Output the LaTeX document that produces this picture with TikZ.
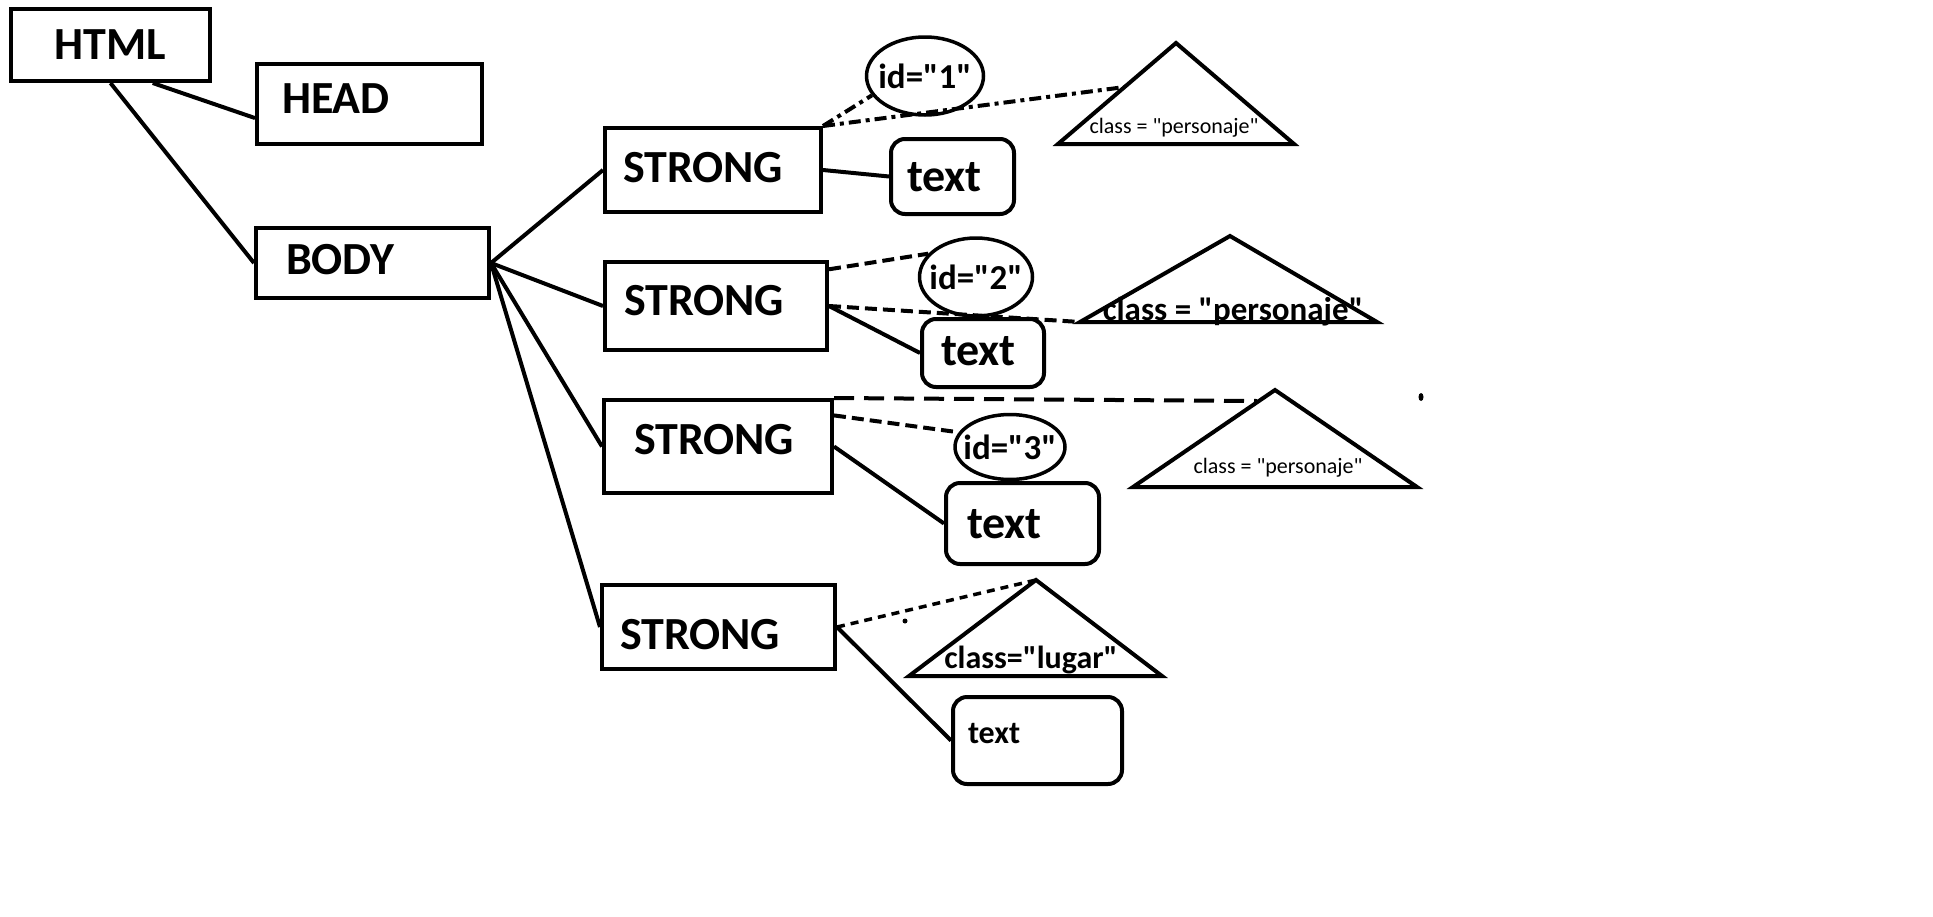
\documentclass[tikz,border=0pt]{standalone}
\usepackage{fontspec}
\setmainfont{Carlito}[Ligatures=TeXOff]
\usetikzlibrary{shapes, positioning}

\begin{document}
\begin{tikzpicture}[x=1pt, y=-1pt]

    % Define block styles
    \tikzstyle{tagbox} = [rectangle, draw=black, line width=4pt, anchor=north west, align=left, inner ysep=0pt, text depth=0pt, font=\fontsize{46}{50}\selectfont\bfseries]
    \tikzstyle{textbox} = [tagbox, rounded corners=14pt]
    \tikzstyle{idnode} = [ellipse, draw=black, line width=3.5pt, inner sep=0pt, font=\fontsize{35}{40}\selectfont\bfseries]
    \tikzstyle{classsmall} = [anchor=base, inner sep=0pt, font=\fontsize{22}{26}\selectfont]
    \tikzstyle{classbig} = [anchor=base, inner sep=0pt, font=\fontsize{33}{38}\selectfont\bfseries]
    \tikzstyle{triangle} = [line width=4pt, line join=miter]
    \tikzstyle{edge} = [line width=4pt]
    \tikzstyle{dashdotline} = [line width=4pt, dash pattern=on 12pt off 5pt on 4pt off 5pt]
    \tikzstyle{dashline} = [line width=4pt, dash pattern=on 12pt off 6pt]
    \tikzstyle{longdashline} = [line width=4pt, dash pattern=on 20pt off 10pt]
    \tikzstyle{dotline} = [line width=3.5pt, dash pattern=on 8pt off 6pt]

    \useasboundingbox (0,0) rectangle (1933,916);
    \fill[white] (0,0) rectangle (1933,916);

    % Place nodes
    \node (html) [tagbox, align=center, minimum height=72, text width=179, inner xsep=10] at (9,7) {HTML};
    \node (head) [tagbox, minimum height=80, text width=175, inner xsep=25, text depth=10] at (255,62) {HEAD};
    \node (body) [tagbox, minimum height=70, text width=173, inner xsep=30, text depth=8] at (254,226) {BODY};

    \node (strong1) [tagbox, minimum height=84, text width=180, inner xsep=18, text depth=5] at (603,126) {STRONG};
    \node (strong2) [tagbox, minimum height=88, text width=184, inner xsep=19, text depth=12] at (603,260) {STRONG};
    \node (strong3) [tagbox, minimum height=93, text width=168, inner xsep=30, text depth=15] at (602,398) {STRONG};
    \node (strong4) [tagbox, minimum height=84, text width=197, inner xsep=18, text height=45] at (600,583) {STRONG};

    \node (text1) [textbox, minimum height=75, text width=91, inner xsep=16] at (889,137) {text};
    \node (text2) [textbox, minimum height=68, text width=84, inner xsep=19, text depth=4] at (920,317) {text};
    \node (text3) [textbox, minimum height=81, text width=111, inner xsep=21] at (944,481) {text};
    \node (text4) [textbox, minimum height=87, text width=139, inner xsep=15, text depth=15, font=\fontsize{32}{36}\selectfont\bfseries] at (951,695) {text};

    \node (id1) [idnode, minimum width=117, minimum height=78] at (925,76) {\makebox[0pt]{id="1"}};
    \node (id2) [idnode, minimum width=113, minimum height=78] at (976,277) {\makebox[0pt]{id="2"}};
    \node (id3) [idnode, minimum width=110, minimum height=65] at (1010,447) {\makebox[0pt]{id="3"}};

    % Triangles
    \coordinate (tri1top) at (1176,43);
    \coordinate (tri1left) at (1058,144);
    \coordinate (tri1right) at (1294,144);
    \coordinate (tri1side) at (1125,87);
    \coordinate (tri2top) at (1230,236);
    \coordinate (tri2left) at (1080,322);
    \coordinate (tri2right) at (1377,322);
    \coordinate (tri3top) at (1275,390);
    \coordinate (tri3left) at (1133,487);
    \coordinate (tri3right) at (1417,487);
    \coordinate (tri3side) at (1257,401);
    \coordinate (tri4top) at (1036,580);
    \coordinate (tri4left) at (909,676);
    \coordinate (tri4right) at (1162,676);
    \draw[triangle] (tri1top) -- (tri1left) -- (tri1right) -- cycle;
    \draw[triangle] (tri2top) -- (tri2left) -- (tri2right) -- cycle;
    \draw[triangle] (tri3top) -- (tri3left) -- (tri3right) -- cycle;
    \draw[triangle] (tri4top) -- (tri4left) -- (tri4right) -- cycle;
    \node (class1) [classsmall] at (1174,133) {class = "personaje"};
    \node (class2) [classbig] at (1233,320) {class = "personaje"};
    \node (class3) [classsmall] at (1278,473) {class = "personaje"};
    \node (class4) [classbig, font=\fontsize{32}{36}\selectfont\bfseries] at (1031,668) {class="lugar"};

    % Draw lines
    \draw [edge] (html.-42) -- (head.187);
    \draw [edge] (html.south) -- (body.west);
    \draw [edge] (body.east) -- (strong1.west);
    \draw [edge] (body.east) -- (strong2.west);
    \draw [edge] (body.east) -- (strong3.west);
    \draw [edge] (body.east) -- (strong4.west);

    \draw [edge] (strong1.east) -- (text1.west);
    \draw [dashdotline] (strong1.north east) -- (id1.200);
    \draw [dashdotline] (strong1.north east) -- (tri1side);

    \draw [edge] (strong2.east) -- (text2.west);
    \draw [dashline] (strong2.18) -- (id2.154);
    \draw [dashline] (strong2.east) -- (tri2left);

    \draw [edge] (strong3.east) -- (text3.west);
    \draw [dashline] (strong3.15) -- (id3.164);
    \draw [longdashline] (strong3.north east) -- (tri3side);
    \coordinate (speck1) at (1421,397);
    \fill (speck1) ellipse (2.5 and 4);

    \draw [edge] (strong4.east) -- (text4.west);
    \draw [dotline] (strong4.east) -- (tri4top);
    \coordinate (speck2) at (905,621);
    \fill (speck2) circle (2.5);

\end{tikzpicture}
\end{document}
